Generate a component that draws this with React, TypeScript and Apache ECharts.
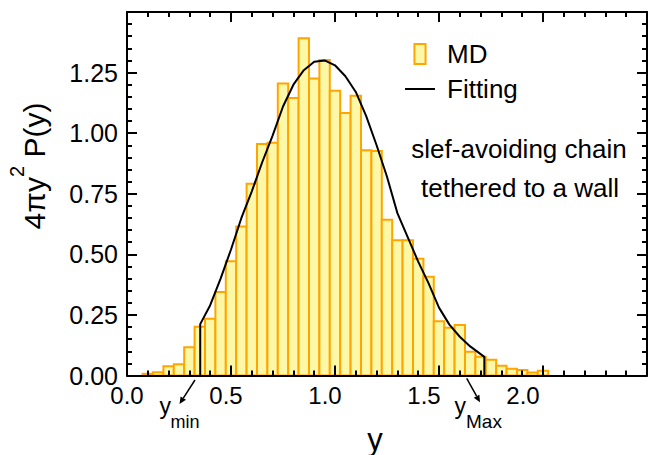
import React, { useEffect, useRef } from 'react';
import * as echarts from 'echarts';

// ---- data ----
const binWidth = 0.05;
const binCenters = [0.10, 0.15, 0.20, 0.25, 0.30, 0.35, 0.40, 0.45, 0.50, 0.55, 0.60, 0.65, 0.70, 0.75, 0.80, 0.85, 0.90, 0.95, 1.00, 1.05, 1.10, 1.15, 1.20, 1.25, 1.30, 1.35, 1.40, 1.45, 1.50, 1.55, 1.60, 1.65, 1.70, 1.75, 1.80, 1.85, 1.90, 1.95, 2.00];
const mdValues = [0.007, 0.013, 0.038, 0.046, 0.117, 0.201, 0.234, 0.345, 0.471, 0.615, 0.791, 0.955, 0.960, 1.205, 1.145, 1.392, 1.226, 1.302, 1.175, 1.083, 1.154, 0.930, 0.926, 0.643, 0.558, 0.558, 0.482, 0.407, 0.224, 0.197, 0.208, 0.098, 0.077, 0.065, 0.040, 0.028, 0.023, 0.012, 0.020];

const fitX = [0.352, 0.352, 0.40, 0.45, 0.50, 0.55, 0.60, 0.65, 0.70, 0.75, 0.80, 0.85, 0.90, 0.95, 1.00, 1.05, 1.10, 1.15, 1.20, 1.25, 1.30, 1.35, 1.40, 1.45, 1.50, 1.55, 1.60, 1.65, 1.718, 1.718];
const fitY = [0, 0.212, 0.29, 0.40, 0.52, 0.65, 0.76, 0.88, 0.99, 1.11, 1.20, 1.26, 1.295, 1.30, 1.28, 1.235, 1.17, 1.07, 0.95, 0.82, 0.67, 0.57, 0.47, 0.38, 0.28, 0.21, 0.16, 0.12, 0.077, 0];

const xTickLabels = ['0.0', '0.5', '1.0', '1.5', '2.0'];
const yTickLabels = ['0.00', '0.25', '0.50', '0.75', '1.00', '1.25'];

const legendNames = ['MD', 'Fitting'];
const noteLines = ['slef-avoiding chain', 'tethered to a wall'];

// ---- styles ----
const FONT = '"Liberation Sans", Arial, Helvetica, sans-serif';
const ORANGE = '#ffa500';
const FILL = '#fdf8a8';
const BLACK = '#000';

function arrow(x1: number, y1: number, x2: number, y2: number) {
  const dx = x2 - x1, dy = y2 - y1;
  const len = Math.hypot(dx, dy);
  const ux = dx / len, uy = dy / len;
  const hl = 7, hw = 3.2;
  const bx = x2 - ux * hl, by = y2 - uy * hl;
  return [
    { type: 'line', shape: { x1, y1, x2: bx, y2: by }, style: { stroke: BLACK, lineWidth: 1.5 } },
    {
      type: 'polygon',
      shape: { points: [[x2, y2], [bx - uy * hw, by + ux * hw], [bx + uy * hw, by - ux * hw]] },
      style: { fill: BLACK },
    },
  ];
}

function axisCommon() {
  return {
    axisLine: { onZero: false, lineStyle: { color: BLACK, width: 2 } },
    axisTick: { inside: true, length: 10, lineStyle: { color: BLACK, width: 2 } },
    minorTick: { show: true, splitNumber: 5, length: 5, lineStyle: { color: BLACK, width: 2 } },
    splitLine: { show: false },
    minorSplitLine: { show: false },
    z: 10,
  };
}

export default function App() {
  const ref = useRef<HTMLDivElement>(null);

  useEffect(() => {
    document.body.style.margin = '0';
    const chart = echarts.init(ref.current!, undefined, { renderer: 'svg' });

    const xFmt = (v: number) => {
      const s = v.toFixed(1);
      return xTickLabels.includes(s) ? s : '';
    };
    const yFmt = (v: number) => {
      const s = v.toFixed(2);
      return yTickLabels.includes(s) ? s : '';
    };

    const option: any = {
      animation: false,
      textStyle: { fontFamily: FONT, color: BLACK },
      grid: { left: 127, right: 2, top: 12, bottom: 79.5, containLabel: false, outerBoundsMode: 'none' },
      xAxis: [
        {
          type: 'value', min: 0, max: 2.5, interval: 0.5, position: 'bottom',
          ...axisCommon(),
          axisLabel: { show: false },
          name: 'y', nameLocation: 'middle', nameGap: 48,
          nameTextStyle: { fontSize: 31, color: BLACK, padding: [0, 24, 0, 0], fontFamily: FONT },
        },
        {
          type: 'value', min: 0, max: 2.5, interval: 0.5, position: 'top',
          ...axisCommon(),
          axisLabel: { show: false },
        },
        {
          // tick-label row of the reference, which is drawn on a slightly narrower scale than its ticks
          type: 'value', min: 0, max: 2.626, interval: 0.5, position: 'bottom',
          axisLine: { show: false, onZero: false },
          axisTick: { show: false },
          splitLine: { show: false },
          axisLabel: { fontSize: 24, color: BLACK, margin: 8, formatter: xFmt, fontFamily: FONT },
        },
      ],
      yAxis: [
        {
          type: 'value', min: 0, max: 1.5, interval: 0.25, position: 'left',
          ...axisCommon(),
          axisLabel: { fontSize: 25, color: BLACK, margin: 9, formatter: yFmt, fontFamily: FONT },
        },
        {
          type: 'value', min: 0, max: 1.5, interval: 0.25, position: 'right',
          ...axisCommon(),
          axisLabel: { show: false },
        },
      ],
      legend: {
        orient: 'vertical', left: 405, top: 41, padding: 0,
        itemWidth: 30, itemHeight: 20, itemGap: 9,
        selectedMode: false,
        textStyle: { fontSize: 26, color: BLACK, fontFamily: FONT, padding: [0, 0, 0, 7] },
        data: [
          { name: legendNames[0], icon: 'path://M0,0h10v18h-10z', itemStyle: { color: FILL, borderColor: ORANGE, borderWidth: 2 } },
          { name: legendNames[1], icon: 'path://M0,0h30v2h-30z', itemStyle: { color: BLACK, borderWidth: 0 } },
        ],
      },
      series: [
        {
          type: 'custom',
          name: legendNames[0],
          xAxisIndex: 0, yAxisIndex: 0,
          itemStyle: { color: FILL, borderColor: ORANGE, borderWidth: 2 },
          encode: { x: 0, y: 1 },
          data: binCenters.map((c, i) => [c, mdValues[i]]),
          renderItem: (params: any, api: any) => {
            const c = api.value(0);
            const h = api.value(1);
            const tl = api.coord([c - binWidth / 2, h]);
            const br = api.coord([c + binWidth / 2, 0]);
            return {
              type: 'rect',
              shape: { x: tl[0], y: tl[1], width: br[0] - tl[0], height: br[1] - tl[1] },
              style: { fill: FILL, stroke: ORANGE, lineWidth: 2 },
            };
          },
          z: 2,
        },
        {
          type: 'line',
          name: legendNames[1],
          xAxisIndex: 0, yAxisIndex: 0,
          data: fitX.map((x, i) => [x, fitY[i]]),
          showSymbol: false,
          symbol: 'none',
          lineStyle: { color: BLACK, width: 2 },
          itemStyle: { color: BLACK },
          z: 5,
        },
      ],
      graphic: [
        {
          type: 'text',
          x: 34.5, y: 166, rotation: Math.PI / 2,
          style: {
            text: '{a|4πy}{s|2}{a| P(y)}',
            align: 'center', verticalAlign: 'middle',
            fill: BLACK,
            rich: {
              a: { fontSize: 30, lineHeight: 56, fontFamily: FONT, fill: BLACK },
              s: { fontSize: 20, lineHeight: 20, verticalAlign: 'top', fontFamily: FONT, fill: BLACK },
            },
          },
        },
        {
          type: 'text', x: 519, y: 149,
          style: { text: noteLines[0], fontSize: 26, fontFamily: FONT, fill: BLACK, align: 'center', verticalAlign: 'middle' },
        },
        {
          type: 'text', x: 520, y: 188,
          style: { text: noteLines[1], fontSize: 26, fontFamily: FONT, fill: BLACK, align: 'center', verticalAlign: 'middle' },
        },
        {
          type: 'text', x: 159.5, y: 405.5,
          style: { text: 'y', fontSize: 23, fontFamily: FONT, fill: BLACK, align: 'left', verticalAlign: 'middle' },
        },
        {
          type: 'text', x: 170.5, y: 422,
          style: { text: 'min', fontSize: 18, fontFamily: FONT, fill: BLACK, align: 'left', verticalAlign: 'middle' },
        },
        {
          type: 'text', x: 454.5, y: 405.5,
          style: { text: 'y', fontSize: 23, fontFamily: FONT, fill: BLACK, align: 'left', verticalAlign: 'middle' },
        },
        {
          type: 'text', x: 466, y: 421.5,
          style: { text: 'Max', fontSize: 19, fontFamily: FONT, fill: BLACK, align: 'left', verticalAlign: 'middle' },
        },
        ...arrow(195, 380, 179.5, 404),
        ...arrow(466.7, 378.3, 480, 402.3),
      ],
    };

    chart.setOption(option);
    return () => chart.dispose();
  }, []);

  return <div ref={ref} style={{ width: 649, height: 455 }} />;
}
